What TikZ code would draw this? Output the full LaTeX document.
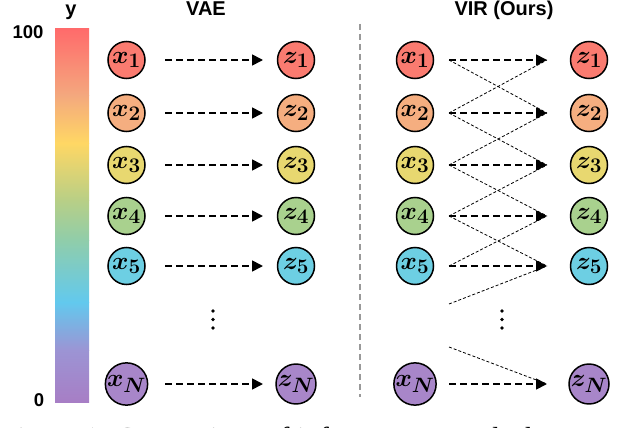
\documentclass[tikz,border=0pt]{standalone}
\usepackage[no-math]{fontspec}
\setmainfont{Liberation Serif}
\setsansfont{Liberation Sans}
\usepackage{bm}
\usetikzlibrary{arrows.meta}
\definecolor{c1}{HTML}{FA7B70}
\definecolor{c2}{HTML}{F5AE80}
\definecolor{c3}{HTML}{E8D870}
\definecolor{c4}{HTML}{A9D18E}
\definecolor{c5}{HTML}{6DCFE3}
\definecolor{cN}{HTML}{A886C9}
\definecolor{g1}{HTML}{FF6B6B}
\definecolor{g2}{HTML}{F4A87E}
\definecolor{g3}{HTML}{FFD764}
\definecolor{g4}{HTML}{B8CF86}
\definecolor{g5}{HTML}{90CDAA}
\definecolor{g6}{HTML}{62C9EE}
\definecolor{g7}{HTML}{9C94D4}
\definecolor{g8}{HTML}{A77EC5}
\begin{document}
\begin{tikzpicture}[x=1pt,y=-1pt,
  circ/.style={circle, draw, line width=1.5pt, minimum size=37pt, inner sep=0pt,
    font=\fontsize{29}{29}\selectfont},
  arr/.style={line width=1.7pt, dash pattern=on 7pt off 4pt,
    -{Triangle[length=11pt,width=11pt]}},
  diag/.style={line width=0.8pt, dash pattern=on 3pt off 2pt},
  title/.style={font=\sffamily\bfseries\fontsize{20}{20}\selectfont, anchor=base, inner sep=0pt},
  tick/.style={font=\sffamily\bfseries\fontsize{18.5}{18.5}\selectfont, anchor=base, inner sep=0pt},
  dot/.style={circle, fill, inner sep=0pt, minimum size=3.8pt}
]
\useasboundingbox (0,0) rectangle (626,428);

% colour bar
\shade[top color=g1, bottom color=g2] (55,29) rectangle (89,95.5);
\shade[top color=g2, bottom color=g3] (55,95) rectangle (89,143.5);
\shade[top color=g3, bottom color=g4] (55,143) rectangle (89,200.5);
\shade[top color=g4, bottom color=g5] (55,200) rectangle (89,240.5);
\shade[top color=g5, bottom color=g6] (55,240) rectangle (89,302.5);
\shade[top color=g6, bottom color=g7] (55,302) rectangle (89,350.5);
\shade[top color=g7, bottom color=g8] (55,350) rectangle (89,402);

\node[title] (ty) at (71,16) {y};
\node[tick] (t100) at (28,38) {100};
\node[tick] (t0) at (39,406) {0};

% titles
\node[title] (tvae) at (206,16) {VAE};
\node[title] (tvir) at (504,16) {VIR (Ours)};

% separator
\coordinate (sepT) at (360,24);
\coordinate (sepB) at (360,397);
\draw[gray!80, line width=1.1pt, dash pattern=on 6pt off 4pt] (sepT) -- (sepB);

% nodes
\foreach \i/\y/\c in {1/60/c1, 2/113/c2, 3/165/c3, 4/216/c4, 5/266/c5, N/384/cN}{
  \node[circ, fill=\c] (vx\i) at (126.5,\y) {$\bm{x_\i}$};
  \node[circ, fill=\c] (vz\i) at (296,\y) {$\bm{z_\i}$};
  \node[circ, fill=\c] (rx\i) at (415,\y) {$\bm{x_\i}$};
  \node[circ, fill=\c] (rz\i) at (589,\y) {$\bm{z_\i}$};
  \coordinate (va\i) at (165,\y);
  \coordinate (vb\i) at (263,\y);
  \coordinate (ra\i) at (449,\y);
  \coordinate (rb\i) at (547,\y);
}
\coordinate (fr1) at (449,304);
\coordinate (fr2) at (449,347);

% VIR neighbour links
\draw[diag] (ra1) -- (rb2);
\draw[diag] (ra2) -- (rb1);
\draw[diag] (ra2) -- (rb3);
\draw[diag] (ra3) -- (rb2);
\draw[diag] (ra3) -- (rb4);
\draw[diag] (ra4) -- (rb3);
\draw[diag] (ra4) -- (rb5);
\draw[diag] (ra5) -- (rb4);
\draw[diag] (fr1) -- (rb5);
\draw[diag] (fr2) -- (rbN);

% main arrows
\foreach \i in {1,2,3,4,5,N}{
  \draw[arr] (va\i) -- (vb\i);
  \draw[arr] (ra\i) -- (rb\i);
}

% dots
\foreach \y [count=\k] in {311,319.5,328}{
  \node[dot] (vd\k) at (213,\y) {};
  \node[dot] (rd\k) at (502,\y) {};
}

% caption (cut off by the page edge)
\node[anchor=base west, inner sep=0pt, font=\fontsize{29}{29}\selectfont] (cap) at (1,447)
  {Figure 1: Comparison of inference networks between VAE and our VIR.};
\end{tikzpicture}
\end{document}
